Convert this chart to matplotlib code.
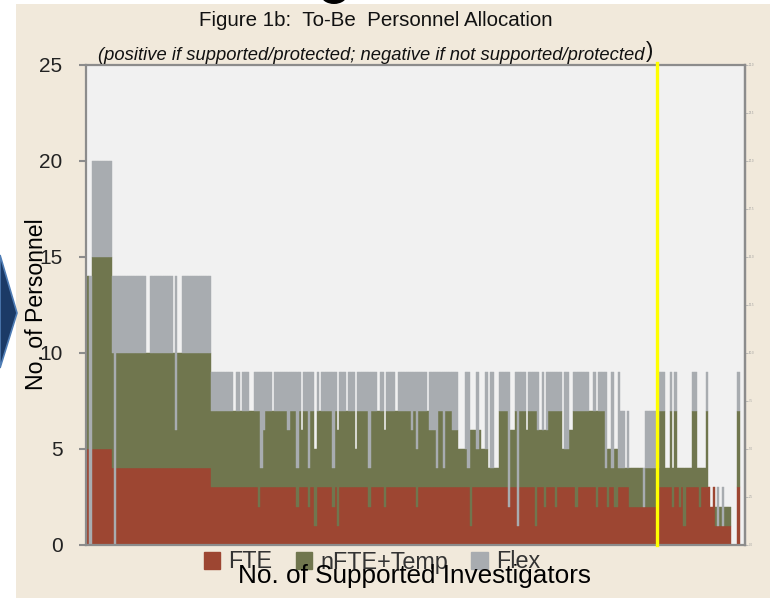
import numpy as np
import matplotlib.pyplot as plt
from matplotlib.patches import Patch, Rectangle, Polygon, Ellipse

plt.rcParams['font.family'] = ['Liberation Sans', 'DejaVu Sans']

# Investigators left to right, stored as runs of identical bars
# (run length, FTE, nFTE+Temp, Flex)
len_a = [1, 1, 9, 1, 1, 13, 2, 10, 1, 1, 2, 13]
fte_a = [5, 0, 5, 4, 0, 4, 4, 4, 4, 4, 4, 4]
nfte_a = [9, 0, 10, 6, 0, 6, 6, 6, 6, 2, 6, 6]
flex_a = [0, 14, 5, 4, 14, 4, 0, 4, 0, 8, 0, 4]

len_b1 = [10, 1, 2, 1, 3, 2, 2, 1, 1, 1, 3, 1, 6, 1, 3, 1, 1, 1, 2, 1, 2, 1, 1, 1, 5, 1, 1, 1, 3, 1,
          3, 1, 5, 1, 3, 1, 2, 1, 4, 1, 6, 1, 1, 1, 1]
fte_b1 = [3, 3, 3, 3, 3, 3, 3, 2, 3, 3, 3, 3, 3, 3, 3, 2, 3, 3, 3, 2, 3, 1, 3, 3, 3, 2, 3, 1, 3, 3,
          3, 3, 3, 2, 3, 3, 3, 2, 3, 3, 3, 3, 3, 2, 3]
nfte_b1 = [4, 4, 4, 4, 4, 4, 4, 5, 1, 3, 4, 4, 4, 3, 4, 2, 4, 3, 4, 2, 4, 4, 4, 4, 4, 2, 4, 5, 4, 4,
           4, 2, 4, 2, 4, 4, 4, 4, 4, 4, 4, 3, 4, 3, 4]
flex_b1 = [2, 0, 2, 0, 2, 0, 2, 2, 5, 3, 2, 0, 2, 3, 2, 5, 2, 0, 2, 5, 2, 0, 2, 0, 2, 5, 2, 0, 2, 0,
           2, 0, 2, 5, 2, 0, 2, 0, 2, 0, 2, 3, 2, 4, 2]

len_b2 = [3, 1, 3, 1, 2, 1, 3, 3, 3, 1, 1, 1, 2, 1, 1, 2, 1, 1, 2, 2, 4, 1, 2, 1, 1, 3, 1, 3, 1, 1,
          1, 1, 1, 1, 3, 1, 1]
fte_b2 = [3, 3, 3, 3, 3, 3, 3, 3, 3, 3, 3, 1, 3, 3, 3, 3, 3, 3, 3, 3, 3, 2, 3, 3, 1, 3, 3, 3, 1, 3,
          3, 3, 2, 3, 3, 2, 3]
nfte_b2 = [4, 4, 3, 1, 4, 1, 4, 3, 2, 2, 1, 5, 3, 2, 3, 2, 2, 1, 1, 1, 4, 0, 3, 4, 0, 4, 3, 4, 6, 3,
           3, 3, 4, 3, 4, 5, 4]
flex_b2 = [2, 0, 3, 5, 2, 5, 2, 3, 0, 4, 5, 0, 0, 4, 0, 0, 4, 0, 5, 0, 2, 7, 0, 2, 8, 2, 0, 2, 2, 3,
           0, 3, 0, 3, 2, 2, 2]

len_b3 = [1, 1, 2, 2, 1, 1, 5, 2, 1, 1, 3, 1, 1, 1, 1, 2, 1, 2, 1, 1, 6, 1, 6, 3, 2, 1, 1, 1, 1, 1,
          1, 1, 3, 2, 1, 1, 2, 1, 1, 1, 1, 1, 1, 1, 1, 3, 3, 1]
fte_b3 = [3, 3, 3, 3, 3, 2, 3, 3, 3, 2, 3, 3, 2, 3, 3, 2, 3, 3, 3, 3, 2, 2, 2, 3, 3, 3, 2, 3, 3, 2,
          3, 1, 3, 3, 3, 2, 3, 3, 3, 2, 3, 1, 1, 1, 1, 1, 0, 3]
nfte_b3 = [4, 2, 2, 3, 4, 5, 4, 4, 4, 5, 4, 1, 3, 2, 1, 3, 1, 1, 1, 1, 2, 0, 2, 4, 1, 4, 2, 4, 1, 2,
           1, 3, 1, 4, 1, 2, 1, 4, 0, 0, 0, 1, 0, 1, 0, 1, 0, 4]
flex_b3 = [2, 0, 4, 0, 2, 2, 2, 0, 2, 0, 2, 5, 0, 0, 5, 0, 5, 3, 0, 3, 0, 2, 3, 2, 0, 2, 0, 2, 0, 0,
           0, 0, 0, 2, 0, 0, 0, 2, 0, 0, 0, 0, 2, 0, 2, 0, 0, 2]

cutoff = 253.3  # yellow marker position (investigator index)

run_len = len_a + len_b1 + len_b2 + len_b3
fte = np.repeat(fte_a + fte_b1 + fte_b2 + fte_b3, run_len)
nfte = np.repeat(nfte_a + nfte_b1 + nfte_b2 + nfte_b3, run_len)
flex = np.repeat(flex_a + flex_b1 + flex_b2 + flex_b3, run_len)
x = np.arange(len(fte))

c_fte = '#9D4632'
c_nfte = '#70764E'
c_flex = '#A8ACB0'
c_spine = '#8C8C8C'

fig = plt.figure(figsize=(7.75, 5.98), dpi=100)
fig.patch.set_facecolor('white')
fig.add_artist(Rectangle((16 / 775, 0), 754 / 775, 1 - 4 / 598, transform=fig.transFigure,
                         facecolor='#F1E9DB', edgecolor='none', zorder=-2))
# bits of the surrounding slide
fig.add_artist(Polygon([(0, 1 - 255 / 598), (17 / 775, 1 - 313 / 598), (0, 1 - 368 / 598)],
                       closed=True, transform=fig.transFigure, facecolor='#1B3A66',
                       edgecolor='#4F7DB5', lw=1.2, zorder=4))
fig.add_artist(Ellipse((334 / 775, 1 + 5 / 598), 26 / 775, 18 / 598, transform=fig.transFigure,
                       facecolor='black', edgecolor='none', zorder=4))

ax = fig.add_axes([86 / 775, 53 / 598, 659 / 775, 480 / 598])
ax.set_facecolor('#F1F1F1')

def stack(vals, bottom, color):
    m = vals > 0
    ax.bar(x[m], vals[m], bottom=bottom[m], width=1.0, align='edge',
           color=color, edgecolor=color, linewidth=0.3)

stack(fte, np.zeros_like(fte), c_fte)
stack(nfte, fte, c_nfte)
stack(flex, fte + nfte, c_flex)

ax.axvline(cutoff, ymin=0, ymax=1.005, color='#FFFF00', lw=2.4, zorder=5, clip_on=False)

ax.set_xlim(-0.45, 292.4)
ax.set_ylim(0, 25)
ax.set_xticks([])
ax.set_yticks(np.arange(0, 26, 5))
ax.tick_params(axis='y', direction='out', length=5, width=1.5, color=c_spine,
               pad=12, labelsize=15, labelcolor='#222222')
for s in ax.spines.values():
    s.set_color(c_spine)
    s.set_linewidth(1.6)

sec = ax.secondary_yaxis('right')
sec.set_yticks(np.arange(0, 25.1, 2.5))
sec.tick_params(length=2, width=0.5, color='#AAAAAA', labelsize=2, labelcolor='#999999', pad=1)
sec.spines['right'].set_color(c_spine)
sec.spines['right'].set_linewidth(1.6)

fig.text(376 / 775, 1 - 20 / 598, 'Figure 1b:  To-Be  Personnel Allocation',
         ha='center', va='center', fontsize=14.8, color='#111111')
fig.text(645 / 775, 1 - 55 / 598,
         '(positive if supported/protected; negative if not supported/protected',
         ha='right', va='center', style='italic', fontsize=13.2, color='#111111')
fig.text(646 / 775, 1 - 52 / 598, ')', ha='left', va='center', fontsize=16, color='#111111')

fig.text(37 / 775, 1 - 304 / 598, 'No. of Personnel', rotation=90, ha='center', va='center',
         fontsize=16.6, color='black', zorder=6)

leg = fig.legend(handles=[Patch(color=c_fte, label='FTE'),
                          Patch(color=c_nfte, label='nFTE+Temp'),
                          Patch(color=c_flex, label='Flex')],
                 loc='center', bbox_to_anchor=(372 / 775, 1 - 562 / 598), ncol=3, frameon=False,
                 fontsize=16.8, handlelength=0.7, handleheight=0.7, handletextpad=0.35,
                 columnspacing=1.0, labelcolor='#333333')
leg.set_zorder(5)

fig.text(414 / 775, 1 - 576 / 598, 'No. of Supported Investigators', ha='center', va='center',
         fontsize=18.8, color='black', zorder=6)

fig.savefig('out.png', dpi=100, facecolor=fig.get_facecolor())
